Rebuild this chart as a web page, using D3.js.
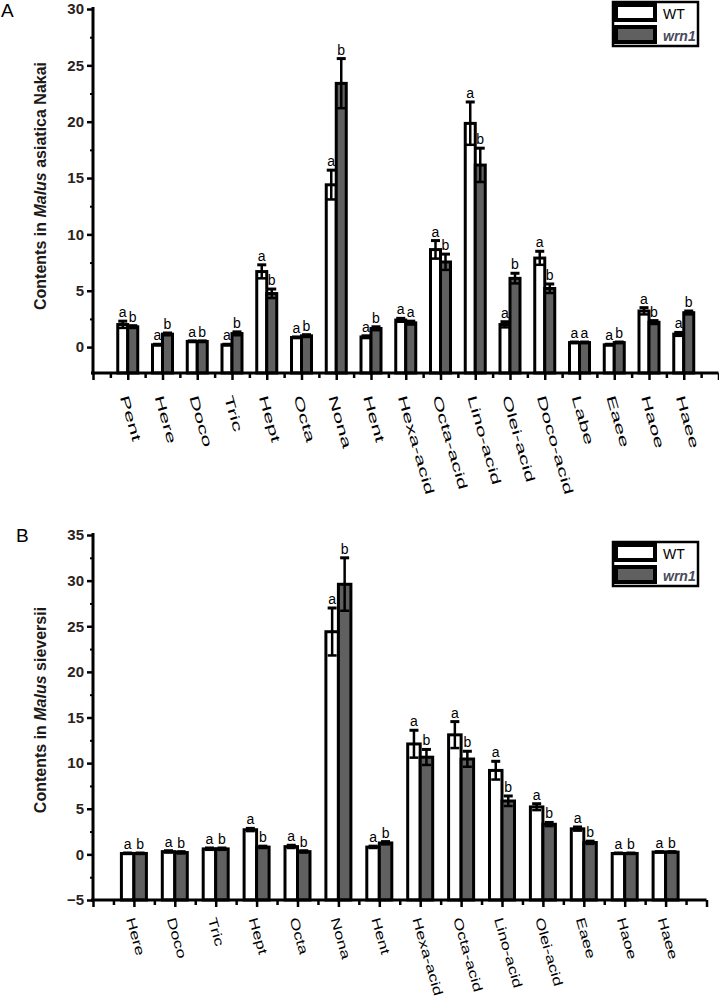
<!DOCTYPE html>
<html><head><meta charset="utf-8">
<script src="https://cdn.jsdelivr.net/npm/d3@7"></script>
<style>body{margin:0;background:#fff}svg{display:block}</style>
</head><body>
<svg id="c" width="719" height="999"></svg>
<script>
// ---------- DATA ----------
const seriesNames = ["WT", "wrn1"];

const catsA = ["Pent","Here","Doco","Tric","Hept","Octa","Nona","Hent","Hexa-acid","Octa-acid","Lino-acid","Olei-acid","Doco-acid","Labe","Eaee","Haoe","Haee"];
const wtA    = [2.0, 0.2, 0.5, 0.2, 6.7, 0.85, 14.4, 0.9, 2.4, 8.65, 19.85, 2.0, 7.9, 0.4, 0.2, 3.2, 1.15];
const wtErrA = [0.3, 0.05, 0.05, 0.05, 0.6, 0.05, 1.3, 0.1, 0.15, 0.8, 1.9, 0.25, 0.6, 0.05, 0.05, 0.3, 0.15];
const muA    = [1.8, 1.15, 0.5, 1.2, 4.75, 1.0, 23.4, 1.65, 2.15, 7.55, 16.15, 6.1, 5.2, 0.4, 0.4, 2.2, 3.05];
const muErrA = [0.1, 0.1, 0.05, 0.15, 0.4, 0.1, 2.2, 0.15, 0.15, 0.7, 1.5, 0.45, 0.4, 0.05, 0.05, 0.15, 0.15];
const wtSigA = ["a","a","a","a","a","a","a","a","a","a","a","a","a","a","a","a","a"];
const muSigA = ["b","b","b","b","b","b","b","b","a","b","b","b","b","a","b","b","b"];
const yTicksA = [0, 5, 10, 15, 20, 25, 30];

const catsB = ["Here","Doco","Tric","Hept","Octa","Nona","Hent","Hexa-acid","Octa-acid","Lino-acid","Olei-acid","Eaee","Haoe","Haee"];
const wtB    = [0.1, 0.3, 0.6, 2.7, 0.85, 24.4, 0.8, 12.1, 13.1, 9.2, 5.2, 2.8, 0.1, 0.25];
const wtErrB = [0.05, 0.1, 0.1, 0.15, 0.15, 2.6, 0.1, 1.5, 1.45, 1.0, 0.35, 0.2, 0.05, 0.05];
const muB    = [0.1, 0.2, 0.6, 0.8, 0.3, 29.6, 1.25, 10.65, 10.45, 5.85, 3.3, 1.3, 0.1, 0.25];
const muErrB = [0.05, 0.1, 0.1, 0.1, 0.1, 2.9, 0.15, 0.85, 0.85, 0.55, 0.2, 0.15, 0.05, 0.05];
const wtSigB = ["a","a","a","a","a","a","a","a","a","a","a","a","a","a"];
const muSigB = ["b","b","b","b","b","b","b","b","b","b","b","b","b","b"];
const yTicksB = [-5, 0, 5, 10, 15, 20, 25, 30, 35];

// ---------- DRAW ----------
const svg = d3.select("#c");
const GRAY = "#606060";
const FONT = "'Liberation Sans', Arial, sans-serif";

function drawPanel(p) {
  const g = svg.append("g");
  const n = p.cats.length;
  const x = d3.scaleLinear().domain([0, n + 1]).range([p.x0, p.x1]);
  const y = d3.scaleLinear().domain([p.yMin, p.yMax]).range([p.yBottom, p.yTop]);
  const bw = p.barW;

  // bars
  const rows = p.cats.map((c, i) => ({i: i + 1, c, wt: p.wt[i], we: p.wtErr[i], mu: p.mu[i], me: p.muErr[i], ws: p.wtSig[i], ms: p.muSig[i]}));
  const bars = [];
  rows.forEach(r => {
    bars.push({cx: x(r.i) - bw / 2, v: r.wt, e: r.we, s: r.ws, fill: "#fff"});
    bars.push({cx: x(r.i) + bw / 2, v: r.mu, e: r.me, s: r.ms, fill: GRAY});
  });
  g.selectAll("rect.bar").data(bars).join("rect")
    .attr("x", d => d.cx - bw / 2).attr("width", bw)
    .attr("y", d => y(d.v)).attr("height", d => y(p.yMin) - y(d.v))
    .attr("fill", d => d.fill).attr("stroke", "#000").attr("stroke-width", 3);

  // error bars
  const cw = 4.5;
  bars.forEach(d => {
    const top = y(d.v + d.e), bot = y(d.v - d.e);
    g.append("line").attr("x1", d.cx).attr("x2", d.cx).attr("y1", top).attr("y2", bot)
      .attr("stroke", "#000").attr("stroke-width", 2.5);
    g.append("line").attr("x1", d.cx - cw).attr("x2", d.cx + cw).attr("y1", top).attr("y2", top)
      .attr("stroke", "#000").attr("stroke-width", 3);
    g.append("line").attr("x1", d.cx - cw).attr("x2", d.cx + cw).attr("y1", bot).attr("y2", bot)
      .attr("stroke", "#000").attr("stroke-width", 2.5);
    g.append("text").attr("x", d.cx).attr("y", top - 4).attr("text-anchor", "middle")
      .attr("font-family", FONT).attr("font-size", 14).attr("fill", "#000").text(d.s);
  });

  // y axis
  const yMinor = d3.range(Math.ceil(p.yMin / 2.5) * 2.5, p.yMax + 0.01, 2.5).filter(v => Math.abs(v % 5) > 0.01);
  const ya = g.append("g").attr("transform", `translate(${p.x0},0)`)
    .call(d3.axisLeft(y).tickValues(p.yTicks).tickSize(6).tickPadding(3).tickFormat(d3.format("d")));
  ya.select(".domain").remove();
  ya.selectAll(".tick line").attr("stroke", "#000").attr("stroke-width", 2.5);
  ya.selectAll(".tick text").attr("font-family", FONT).attr("font-weight", "bold")
    .attr("font-size", 15).attr("fill", "#2a2220");
  const ym = g.append("g").attr("transform", `translate(${p.x0},0)`)
    .call(d3.axisLeft(y).tickValues(yMinor).tickSize(3).tickFormat(""));
  ym.select(".domain").remove();
  ym.selectAll(".tick line").attr("stroke", "#000").attr("stroke-width", 2);
  g.append("line").attr("x1", p.x0).attr("x2", p.x0).attr("y1", y(p.yMax) - 2).attr("y2", y(p.yMin) + 1.5)
    .attr("stroke", "#000").attr("stroke-width", 3);

  // x axis
  const xa = g.append("g").attr("transform", `translate(0,${y(p.yMin)})`)
    .call(d3.axisBottom(x).tickValues(d3.range(0, n + 2)).tickSize(7).tickFormat(""));
  xa.select(".domain").remove();
  xa.selectAll(".tick line").attr("stroke", "#000").attr("stroke-width", 2.5);
  const xm = g.append("g").attr("transform", `translate(0,${y(p.yMin)})`)
    .call(d3.axisBottom(x).tickValues(d3.range(0.5, n + 1, 1)).tickSize(5).tickFormat(""));
  xm.select(".domain").remove();
  xm.selectAll(".tick line").attr("stroke", "#000").attr("stroke-width", 2.5);
  g.append("line").attr("x1", p.x0 - 2).attr("x2", p.x1).attr("y1", y(p.yMin)).attr("y2", y(p.yMin))
    .attr("stroke", "#000").attr("stroke-width", 3);

  // x labels
  rows.forEach(r => {
    g.append("text")
      .attr("transform", `translate(${x(r.i) - 8},${y(p.yMin) + p.labelDy}) rotate(74) scale(${p.labelStretch},1)`)
      .attr("font-family", FONT).attr("font-size", 13).attr("fill", "#000").text(r.c);
  });

  // y label
  const yl = g.append("text")
    .attr("transform", `translate(${p.ylabX},${p.ylabY}) rotate(-90)`)
    .attr("text-anchor", "middle").attr("font-family", FONT).attr("font-weight", "bold")
    .attr("font-size", 16).attr("fill", "#1e1a18");
  yl.append("tspan").text("Contents in ");
  yl.append("tspan").attr("font-style", "italic").text("Malus");
  yl.append("tspan").text(" " + p.species);

  // panel letter
  g.append("text").attr("x", p.letX).attr("y", p.letY).attr("font-family", FONT)
    .attr("font-size", 19).attr("fill", "#000").text(p.letter);

  // legend
  const lg = g.append("g").attr("transform", `translate(613,${p.legY})`);
  lg.append("rect").attr("x", 0).attr("y", 0).attr("width", 85).attr("height", 44)
    .attr("fill", "#fff").attr("stroke", "#000").attr("stroke-width", 2.5);
  lg.append("rect").attr("x", 3).attr("y", 3).attr("width", 39).attr("height", 15)
    .attr("fill", "#fff").attr("stroke", "#000").attr("stroke-width", 4);
  lg.append("rect").attr("x", 3).attr("y", 25).attr("width", 39).attr("height", 15)
    .attr("fill", GRAY).attr("stroke", "#000").attr("stroke-width", 4);
  lg.append("text").attr("x", 50).attr("y", 17).attr("font-family", FONT).attr("font-size", 14)
    .attr("fill", "#000").text(seriesNames[0]);
  lg.append("text").attr("x", 50).attr("y", 39).attr("font-family", FONT).attr("font-size", 14)
    .attr("font-style", "italic").attr("font-weight", "bold").attr("fill", "#4a4a5e").text(seriesNames[1]);
}

drawPanel({
  cats: catsA, wt: wtA, wtErr: wtErrA, mu: muA, muErr: muErrA, wtSig: wtSigA, muSig: muSigA,
  yTicks: yTicksA, yMin: -2.3, yMax: 30, yTop: 9, yBottom: 373,
  x0: 93, x1: 718.5, barW: 10, labelStretch: 1.75, labelDy: 24,
  ylabX: 46, ylabY: 186, species: "asiatica Nakai",
  letter: "A", letX: 1, letY: 17, legY: 2
});
drawPanel({
  cats: catsB, wt: wtB, wtErr: wtErrB, mu: muB, muErr: muErrB, wtSig: wtSigB, muSig: muSigB,
  yTicks: yTicksB, yMin: -5, yMax: 35, yTop: 535, yBottom: 900,
  x0: 93, x1: 706.5, barW: 12.5, labelStretch: 1.38, labelDy: 19,
  ylabX: 46, ylabY: 710, species: "sieversii",
  letter: "B", letX: 16, letY: 542, legY: 542
});
</script>
</body></html>
